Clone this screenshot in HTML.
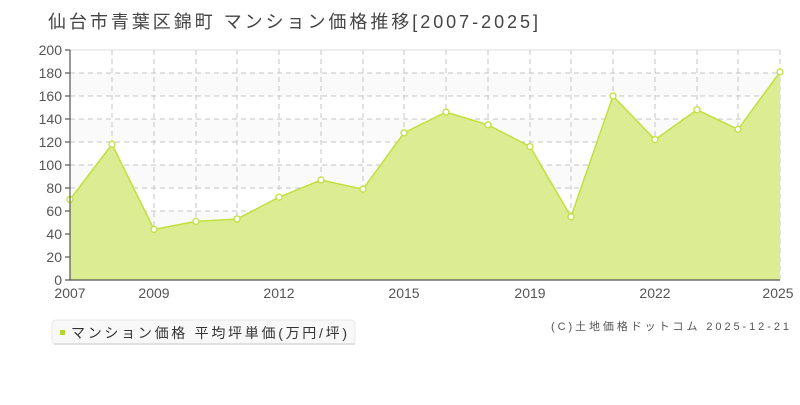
<!DOCTYPE html>
<html><head><meta charset="utf-8"><style>
body{margin:0;background:#fff;width:800px;height:400px;overflow:hidden;font-family:"Liberation Sans","Noto Sans CJK JP",sans-serif}
</style></head><body>
<svg width="800" height="400" xmlns="http://www.w3.org/2000/svg" font-family="'Liberation Sans','Noto Sans CJK JP',sans-serif">
<text x="48" y="28" font-size="18" fill="#444" textLength="490" lengthAdjust="spacing">仙台市青葉区錦町 マンション価格推移[2007-2025]</text>
<g fill="#fafafa">
<rect x="70" y="73" width="710" height="23"/>
<rect x="70" y="119" width="710" height="23"/>
<rect x="70" y="165" width="710" height="23"/>
<rect x="70" y="211" width="710" height="23"/>
<rect x="70" y="257" width="710" height="23"/>
</g>
<line x1="70" y1="50" x2="780" y2="50" stroke="#ddd" stroke-width="1"/>
<g stroke="#c4c4c4" stroke-dasharray="5,4" stroke-width="1">
<line x1="70" y1="73" x2="780" y2="73"/><line x1="70" y1="96" x2="780" y2="96"/><line x1="70" y1="119" x2="780" y2="119"/><line x1="70" y1="142" x2="780" y2="142"/><line x1="70" y1="165" x2="780" y2="165"/><line x1="70" y1="188" x2="780" y2="188"/><line x1="70" y1="211" x2="780" y2="211"/><line x1="70" y1="234" x2="780" y2="234"/><line x1="70" y1="257" x2="780" y2="257"/>
<line x1="112" y1="50" x2="112" y2="280"/><line x1="154" y1="50" x2="154" y2="280"/><line x1="196" y1="50" x2="196" y2="280"/><line x1="237" y1="50" x2="237" y2="280"/><line x1="279" y1="50" x2="279" y2="280"/><line x1="321" y1="50" x2="321" y2="280"/><line x1="363" y1="50" x2="363" y2="280"/><line x1="404" y1="50" x2="404" y2="280"/><line x1="446" y1="50" x2="446" y2="280"/><line x1="488" y1="50" x2="488" y2="280"/><line x1="530" y1="50" x2="530" y2="280"/><line x1="571" y1="50" x2="571" y2="280"/><line x1="613" y1="50" x2="613" y2="280"/><line x1="655" y1="50" x2="655" y2="280"/><line x1="697" y1="50" x2="697" y2="280"/><line x1="738" y1="50" x2="738" y2="280"/><line x1="780" y1="50" x2="780" y2="280"/>
</g>
<polygon fill="#dbec92" points="70,280 70,199.5 112,144.3 154,229.4 196,221.4 237,219 279,197.2 321,180 363,189.2 404,132.8 446,112.1 488,124.8 530,146.6 571,216.8 613,96 655,139.7 697,109.8 738,129.4 780,71.9 780,280"/>
<polyline fill="none" stroke="#c2e03c" stroke-width="1.5" points="70,199.5 112,144.3 154,229.4 196,221.4 237,219 279,197.2 321,180 363,189.2 404,132.8 446,112.1 488,124.8 530,146.6 571,216.8 613,96 655,139.7 697,109.8 738,129.4 780,71.9"/>
<g fill="#fff" stroke="#c2e03c" stroke-width="1.3">
<circle cx="70" cy="199.5" r="3"/><circle cx="112" cy="144.3" r="3"/><circle cx="154" cy="229.4" r="3"/><circle cx="196" cy="221.4" r="3"/><circle cx="237" cy="219" r="3"/><circle cx="279" cy="197.2" r="3"/><circle cx="321" cy="180" r="3"/><circle cx="363" cy="189.2" r="3"/><circle cx="404" cy="132.8" r="3"/><circle cx="446" cy="112.1" r="3"/><circle cx="488" cy="124.8" r="3"/><circle cx="530" cy="146.6" r="3"/><circle cx="571" cy="216.8" r="3"/><circle cx="613" cy="96" r="3"/><circle cx="655" cy="139.7" r="3"/><circle cx="697" cy="109.8" r="3"/><circle cx="738" cy="129.4" r="3"/><circle cx="780" cy="71.9" r="3"/>
</g>
<g stroke="#555" stroke-width="1.2"><line x1="70" y1="50" x2="70" y2="280"/><line x1="70" y1="280" x2="780" y2="280"/>
<line x1="65" y1="50" x2="70" y2="50"/><line x1="65" y1="73" x2="70" y2="73"/><line x1="65" y1="96" x2="70" y2="96"/><line x1="65" y1="119" x2="70" y2="119"/><line x1="65" y1="142" x2="70" y2="142"/><line x1="65" y1="165" x2="70" y2="165"/><line x1="65" y1="188" x2="70" y2="188"/><line x1="65" y1="211" x2="70" y2="211"/><line x1="65" y1="234" x2="70" y2="234"/><line x1="65" y1="257" x2="70" y2="257"/><line x1="65" y1="280" x2="70" y2="280"/>
</g>
<g font-size="14" fill="#555" text-anchor="end">
<text x="62" y="55">200</text><text x="62" y="78">180</text><text x="62" y="101">160</text><text x="62" y="124">140</text><text x="62" y="147">120</text><text x="62" y="170">100</text><text x="62" y="193">80</text><text x="62" y="216">60</text><text x="62" y="239">40</text><text x="62" y="262">20</text><text x="62" y="285">0</text>
</g>
<g font-size="14" fill="#555" text-anchor="middle">
<text x="70" y="298">2007</text><text x="154" y="298">2009</text><text x="279" y="298">2012</text><text x="404" y="298">2015</text><text x="530" y="298">2019</text><text x="655" y="298">2022</text><text x="778" y="298">2025</text>
</g>
<rect x="52" y="320" width="303" height="24" rx="4" fill="#f8f8f8" stroke="#e8e8e8"/>
<rect x="54" y="343" width="301" height="2" fill="#e0e0e0"/>
<rect x="60" y="330" width="5" height="5" fill="#b5d335"/>
<text x="71" y="338" font-size="14" fill="#333" textLength="276" lengthAdjust="spacing">マンション価格 平均坪単価(万円/坪)</text>
<text x="551" y="330" font-size="11" fill="#555" textLength="238" lengthAdjust="spacing">(C)土地価格ドットコム 2025-12-21</text>
</svg>
</body></html>
